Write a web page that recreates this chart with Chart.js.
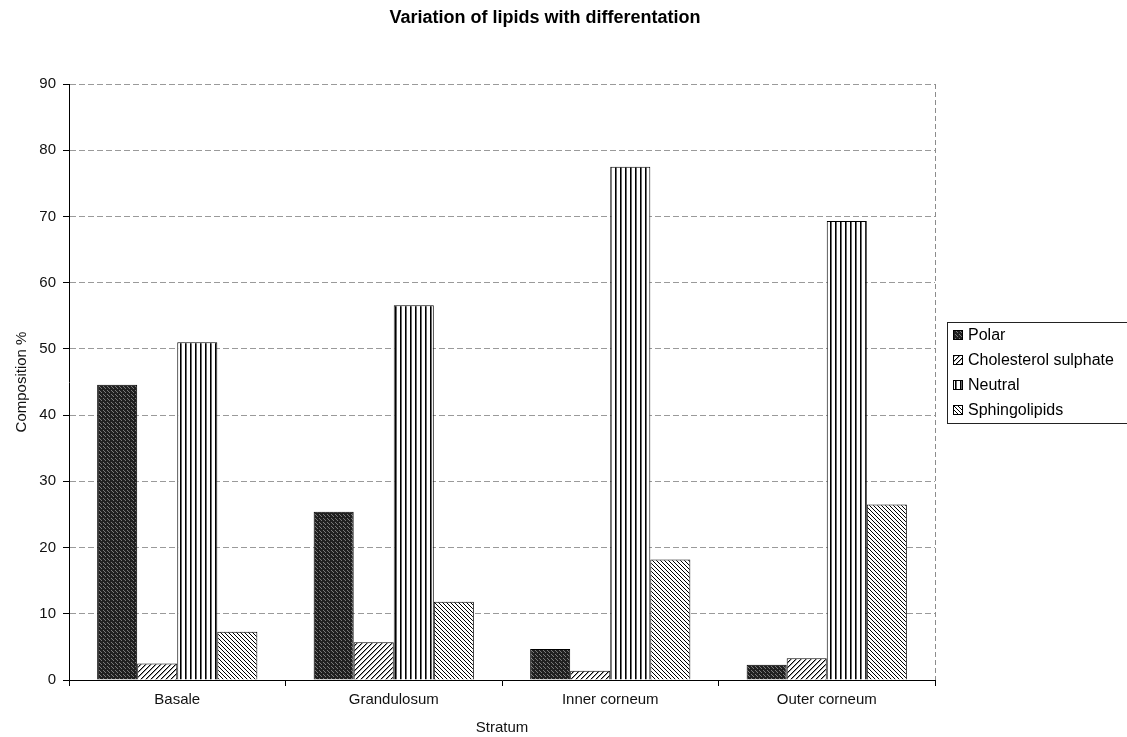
<!DOCTYPE html>
<html>
<head>
<meta charset="utf-8">
<title>Variation of lipids with differentation</title>
<script src="https://cdn.jsdelivr.net/npm/chart.js@4.4.1/dist/chart.umd.min.js"></script>
<style>
  html, body { margin: 0; padding: 0; background: #fff; }
  #wrap { width: 1127px; height: 737px; }
</style>
</head>
<body>
<div id="wrap"><canvas id="myChart" width="1127" height="737"></canvas></div>
<script>
//------------------------------ data -----------------------------------

const strata = ['Basale', 'Grandulosum', 'Inner corneum', 'Outer corneum'];

const polar        = [44.6, 25.4, 4.7, 2.3];
const cholSulphate = [2.5, 5.7, 1.4, 3.3];
const neutral      = [51.0, 56.6, 77.5, 69.3];
const sphingo      = [7.3, 11.8, 18.2, 26.5];

const seriesNames = ['Polar', 'Cholesterol sulphate', 'Neutral', 'Sphingolipids'];
const yTicks = [0, 10, 20, 30, 40, 50, 60, 70, 80, 90];

const titleText = 'Variation of lipids with differentation';
const FONT = '"Liberation Sans", Arial, Helvetica, sans-serif';

//------------------------------ fill patterns (b/w print style) ---------

function tile(size, draw) {
    const c = document.createElement('canvas');
    c.width = size; c.height = size;
    const g = c.getContext('2d');
    g.fillStyle = '#fff';
    g.fillRect(0, 0, size, size);
    draw(g, size);
    return c.getContext('2d').createPattern(c, 'repeat');
}

const ctx0 = document.getElementById('myChart').getContext('2d');

function pat(c) { return ctx0.createPattern(c.canvas || c, 'repeat'); }

// dark speckled fill
const speckle = (function () {
    const c = document.createElement('canvas');
    c.width = 4; c.height = 4;
    const g = c.getContext('2d');
    g.fillStyle = '#202020'; g.fillRect(0, 0, 4, 4);
    g.fillStyle = '#7a7a7a';
    g.fillRect(1, 0, 1, 1); g.fillRect(3, 2, 1, 1); g.fillRect(0, 3, 1, 1);
    return ctx0.createPattern(c, 'repeat');
})();

// forward hatch  /
const slash = (function () {
    const s = 5, c = document.createElement('canvas');
    c.width = s; c.height = s;
    const g = c.getContext('2d');
    g.fillStyle = '#fff'; g.fillRect(0, 0, s, s);
    for (let x = 0; x < s; x++) {
        g.fillStyle = '#000'; g.fillRect(x, s - 1 - x, 1, 1);
        g.fillStyle = '#999'; g.fillRect(x, (s - x) % s, 1, 1);
    }
    return ctx0.createPattern(c, 'repeat');
})();

// vertical lines
const vlines = (function () {
    const c = document.createElement('canvas');
    c.width = 5; c.height = 2;
    const g = c.getContext('2d');
    g.fillStyle = '#fff'; g.fillRect(0, 0, 5, 2);
    g.fillStyle = '#000'; g.fillRect(0, 0, 1, 2);
    g.fillStyle = '#6a6a6a'; g.fillRect(1, 0, 1, 2);
    return ctx0.createPattern(c, 'repeat');
})();

// back hatch  \
const backslash = (function () {
    const s = 4, c = document.createElement('canvas');
    c.width = s; c.height = s;
    const g = c.getContext('2d');
    g.fillStyle = '#fff'; g.fillRect(0, 0, s, s);
    for (let x = 0; x < s; x++) {
        g.fillStyle = '#000'; g.fillRect(x, x, 1, 1);
    }
    return ctx0.createPattern(c, 'repeat');
})();

const fills = [speckle, slash, vlines, backslash];

//------------------------------ extra drawing ---------------------------

const excelLook = {
    id: 'excelLook',
    afterDraw(chart) {
        const {ctx, chartArea: a} = chart;

        // right edge of plot area
        ctx.save();
        ctx.strokeStyle = '#8c8c8c';
        ctx.lineWidth = 1;
        ctx.setLineDash([5, 3]);
        ctx.beginPath();
        ctx.moveTo(Math.round(a.right) + 0.5, a.top);
        ctx.lineTo(Math.round(a.right) + 0.5, a.bottom);
        ctx.stroke();
        ctx.restore();

        // title
        ctx.save();
        ctx.font = 'bold 18px ' + FONT;
        ctx.fillStyle = '#000';
        ctx.textAlign = 'center';
        ctx.textBaseline = 'middle';
        ctx.fillText(titleText, 545, 18);
        ctx.restore();

        // legend
        const lx = 947, ly = 322, lw = 190, lh = 101;
        ctx.save();
        ctx.fillStyle = '#fff';
        ctx.fillRect(lx, ly, lw, lh);
        ctx.strokeStyle = '#222';
        ctx.lineWidth = 1;
        ctx.strokeRect(lx + 0.5, ly + 0.5, lw, lh);
        ctx.font = '16px ' + FONT;
        ctx.textBaseline = 'middle';
        chart.data.datasets.forEach((ds, i) => {
            const cy = ly + 13 + i * 25;
            ctx.fillStyle = ds.backgroundColor;
            ctx.fillRect(lx + 6, cy - 5, 10, 10);
            ctx.strokeStyle = '#000';
            ctx.strokeRect(lx + 6.5, cy - 4.5, 9, 9);
            ctx.fillStyle = '#000';
            ctx.fillText(ds.label, lx + 21, cy + 1);
        });
        ctx.restore();
    }
};

//------------------------------ chart -----------------------------------

const dataLipids = {
    labels: strata,
    datasets: [polar, cholSulphate, neutral, sphingo].map((vals, i) => ({
        label: seriesNames[i],
        data: vals,
        backgroundColor: fills[i],
        borderColor: '#000',
        borderWidth: 1,
        borderSkipped: 'bottom',
        categoryPercentage: 0.74,
        barPercentage: 1.0
    }))
};

const configLipids = {
    type: 'bar',
    data: dataLipids,
    plugins: [excelLook],
    options: {
        responsive: false,
        animation: false,
        layout: { padding: { left: 0, top: 84, right: 192, bottom: 0 } },
        plugins: {
            legend: { display: false },
            title: { display: false },
            tooltip: { enabled: false }
        },
        scales: {
            x: {
                afterFit: (s) => { s.height = 57; },
                grid: {
                    drawOnChartArea: false,
                    drawTicks: true,
                    tickLength: 6,
                    color: '#000',
                    offset: true
                },
                border: { color: '#000', width: 1 },
                ticks: {
                    color: '#111',
                    padding: 5,
                    font: { family: FONT, size: 15 },
                    maxRotation: 0
                },
                title: {
                    display: true,
                    text: 'Stratum',
                    color: '#111',
                    font: { family: FONT, size: 15 },
                    padding: { top: 0, bottom: 0 }
                }
            },
            y: {
                min: 0,
                max: 90,
                afterFit: (s) => { s.width = 69; },
                afterBuildTicks: (s) => { s.ticks = yTicks.map(v => ({ value: v })); },
                grid: {
                    color: '#9a9a9a',
                    tickColor: '#000',
                    tickLength: 6,
                    drawTicks: true
                },
                border: { color: '#000', width: 1, dash: [6, 3] },
                ticks: {
                    color: '#111',
                    padding: 7,
                    font: { family: FONT, size: 15 }
                },
                title: {
                    display: true,
                    text: 'Composition %',
                    color: '#111',
                    font: { family: FONT, size: 15 },
                    padding: { top: 13, bottom: 0 }
                }
            }
        }
    }
};

var chartLipids = new Chart(
    document.getElementById('myChart'),
    configLipids
);
</script>
</body>
</html>
